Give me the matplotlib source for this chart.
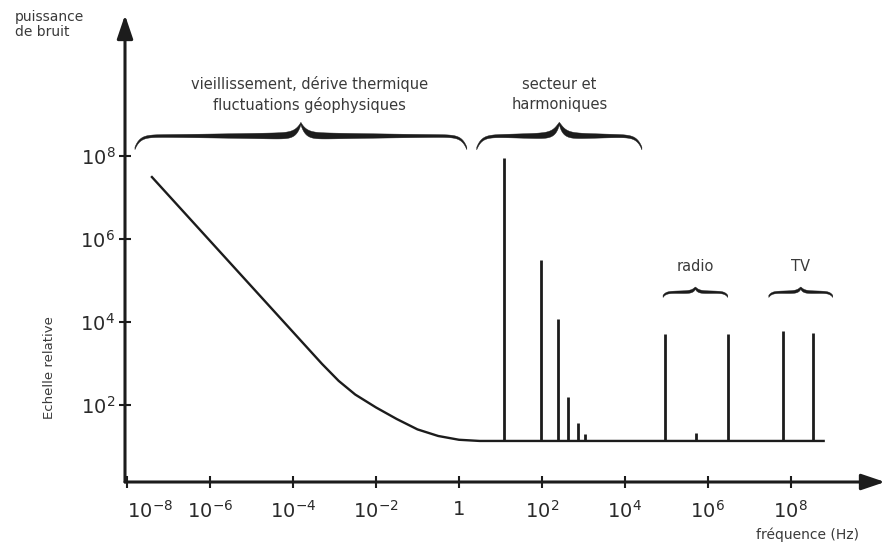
import numpy as np
import matplotlib

matplotlib.use("Agg")
import matplotlib.pyplot as plt

# 1/f drift curve running into the white-noise floor (Hz, relative power)
CURVE_FREQ = [3.8e-8, 5.0e-4, 1.26e-3, 3.16e-3, 1e-2, 3.16e-2, 0.1,
              0.316, 1.0, 3.16, 6.6e8]
CURVE_POWER = [3.24e7, 955, 372, 174, 85, 44.7, 25.1, 17.4, 14.1, 13.2, 13.2]
FLOOR = 13.2

# mains + harmonics
MAINS_FREQ = [12, 95, 245, 427, 741, 1100]
MAINS_POWER = [8.9e7, 3.1e5, 1.17e4, 148, 36, 19.5]
# radio and TV carriers
RADIO_FREQ = [9.1e4, 5.1e5, 3.0e6]
RADIO_POWER = [5.1e3, 20.5, 5.1e3]
TV_FREQ = [6.5e7, 3.4e8]
TV_POWER = [6.0e3, 5.4e3]

X_TICKS = [1e-8, 1e-6, 1e-4, 1e-2, 1, 1e2, 1e4, 1e6, 1e8]
X_LABELS = [r"$10^{-8}$", r"$10^{-6}$", r"$10^{-4}$", r"$10^{-2}$", "1",
            r"$10^{2}$", r"$10^{4}$", r"$10^{6}$", r"$10^{8}$"]
Y_TICKS = [1e2, 1e4, 1e6, 1e8]
Y_LABELS = [r"$10^{2}$", r"$10^{4}$", r"$10^{6}$", r"$10^{8}$"]

# braces: (f_lo, f_hi, level, label) -- frequency span of each noise family
BRACES = [
    (10**-7.81, 10**0.19, 10**8.48, "vieillissement, dérive thermique\nfluctuations géophysiques"),
    (10**0.43, 10**4.41, 10**8.48, "secteur et\nharmoniques"),
    (10**4.92, 10**6.48, 10**4.71, "radio"),
    (10**7.47, 10**9.01, 10**4.71, "TV"),
]

INK = "#1c1c1c"
TXT = "#3a3a3a"


def brace(ax, lo, hi, level, h, r, w0, w1):
    """Filled curly brace drawn in log-log space (all sizes in decades)."""
    a, b, y0 = np.log10(lo), np.log10(hi), np.log10(level)
    m = (a + b) / 2
    d = np.linspace(0, m - a, 300)               # distance from the end
    y = y0 - h * np.exp(-d / r) + h * np.exp(-(m - a - d) / r)
    q = d / (m - a)
    w = w0 + (w1 - w0) * q**1.5 * (1 - np.exp(-(1 - q) / 0.02))
    x = np.concatenate([a + d, (b - d)[::-1]])
    yc = np.concatenate([y, y[::-1]])
    wc = np.concatenate([w, w[::-1]])
    xs = np.concatenate([x, x[::-1]])
    ys = np.concatenate([yc + wc / 2, (yc - wc / 2)[::-1]])
    ax.fill(10**xs, 10**ys, color=INK, lw=0.3, ec=INK, clip_on=False, zorder=4)


fig = plt.figure(figsize=(8.95, 5.44), dpi=100)
fig.patch.set_facecolor("white")
ax = fig.add_axes([125 / 895, 62 / 544, 760 / 895, 467 / 544])
ax.set_xscale("log"); ax.set_yscale("log")
ax.set_xlim(10**-8.05, 10**10.27)
ax.set_ylim(10**0.13, 10**11.4)

ax.plot(CURVE_FREQ, CURVE_POWER, color=INK, lw=1.7, solid_capstyle="butt",
        solid_joinstyle="round")
ax.vlines(MAINS_FREQ, FLOOR, MAINS_POWER, color=INK, lw=2.0)
ax.vlines(RADIO_FREQ, FLOOR, RADIO_POWER, color=INK, lw=2.0)
ax.vlines(TV_FREQ, FLOOR, TV_POWER, color=INK, lw=2.0)

for k, (lo, hi, lev, lab) in enumerate(BRACES):
    big = k < 2
    brace(ax, lo, hi, lev, 0.30 if big else 0.10, 0.12 if big else 0.07,
          0.06 if big else 0.05, 0.17 if big else 0.08)
    fc = np.sqrt(lo * hi)
    if big:
        ax.text(fc * (1.6 if k == 0 else 1.0), lev * 10**1.0, lab, ha="center", va="center",
                fontsize=10.5, color=TXT, linespacing=1.45)
    else:
        ax.text(fc, lev * 10**0.63, lab, ha="center", va="center",
                fontsize=10.5, color=TXT)

# axes drawn as arrows
for s in ax.spines.values():
    s.set_visible(False)
arrow = dict(arrowstyle="-|>,head_length=0.65,head_width=0.22", lw=2.2, color=INK,
             mutation_scale=22, shrinkA=0, shrinkB=0)
ax.annotate("", xy=(1, 0), xytext=(0, 0), xycoords="axes fraction", arrowprops=arrow)
ax.annotate("", xy=(0, 1), xytext=(0, 0), xycoords="axes fraction", arrowprops=arrow)

ax.set_xticks(X_TICKS); ax.set_xticklabels(X_LABELS)
ax.set_yticks(Y_TICKS); ax.set_yticklabels(Y_LABELS)
ax.minorticks_off()
ax.tick_params(axis="both", direction="inout", length=8, width=1.5, color=INK,
               labelsize=14, labelcolor="#2a2a2a")
ax.tick_params(axis="x", pad=9)
ax.tick_params(axis="y", pad=3)
ax.get_xticklabels()[0].set_horizontalalignment("left")

fig.text(15 / 895, 1 - 10 / 544, "puissance\nde bruit", ha="left", va="top",
         fontsize=10, color=TXT, linespacing=1.1)
fig.text(50 / 895, 1 - 368 / 544, "Echelle relative", rotation=90, ha="center",
         va="center", fontsize=9.5, color=TXT)
fig.text(808 / 895, 9 / 544, "fréquence (Hz)", ha="center", va="center",
         fontsize=10, color=TXT)

fig.savefig("out.png", dpi=100)
